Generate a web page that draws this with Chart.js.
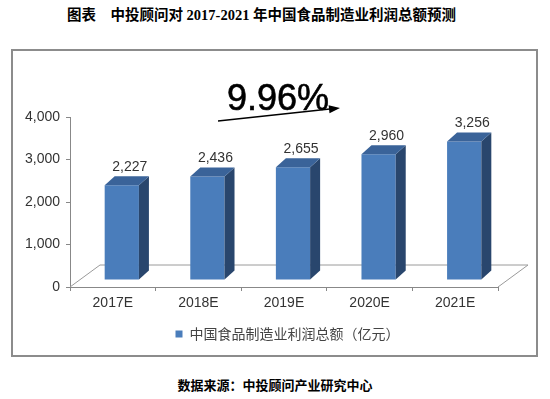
<!DOCTYPE html>
<html>
<head>
<meta charset="utf-8">
<script src="https://cdn.jsdelivr.net/npm/chart.js@4.4.0/dist/chart.umd.min.js"></script>
<style>
body { margin: 0; width: 550px; height: 399px; background: #fff; position: relative; overflow: hidden; }
#title { position: absolute; left: 67px; top: 3px; line-height: 18px; font: bold 14.5px "Liberation Serif", "Noto Sans CJK SC"; color: #000; white-space: nowrap; }
#frame { position: absolute; left: 11px; top: 49px; width: 527px; height: 308px; box-sizing: border-box; border: 2px solid #8c8c8c; }
#wrap { position: absolute; left: 13px; top: 51px; width: 523px; height: 304px; }
#source { position: absolute; left: 0; top: 375px; width: 550px; text-align: center; line-height: 18px; font: bold 13px "Noto Sans CJK SC"; color: #000; }
</style>
</head>
<body>
<div id="title">图表　中投顾问对 2017-2021 年中国食品制造业利润总额预测</div>
<div id="frame"></div>
<div id="wrap"><canvas id="chart" width="523" height="304"></canvas></div>
<div id="source">数据来源：中投顾问产业研究中心</div>
<script>
// data
var years = ['2017E', '2018E', '2019E', '2020E', '2021E'];
var profit = [2227, 2436, 2655, 2960, 3256];
var yTicks = [0, 1000, 2000, 3000, 4000];
var seriesName = '中国食品制造业利润总额（亿元）';
var growthRate = '9.96%';

// fake 3d look
var barShift = { dx: 9, dy: -7 };
var barDepth = { dx: 10, dy: -9 };
var floorDepth = { dx: 30, dy: -22 };

var threeD = {
    id: 'threeD',
    afterLayout: function (chart) {
        // legend sits centred under the plot, not under the whole canvas
        chart.legend.left += 32;
        chart.legend.right += 32;
    },
    beforeDatasetsDraw: function (chart) {
        var ctx = chart.ctx, a = chart.chartArea;
        ctx.save();
        ctx.strokeStyle = '#9a9a9a';
        ctx.lineWidth = 1;
        ctx.beginPath();
        ctx.moveTo(a.left, a.bottom);
        ctx.lineTo(a.left + floorDepth.dx, a.bottom + floorDepth.dy);
        ctx.lineTo(a.right + floorDepth.dx, a.bottom + floorDepth.dy);
        ctx.lineTo(a.right, a.bottom);
        ctx.stroke();
        ctx.restore();
    },
    beforeDatasetDraw: function (chart) {
        chart.ctx.save();
        chart.ctx.translate(barShift.dx, barShift.dy);
    },
    afterDatasetDraw: function (chart, args) {
        var ctx = chart.ctx;
        ctx.restore();
        var meta = args.meta;
        ctx.save();
        meta.data.forEach(function (bar, i) {
            var p = bar.getProps(['x', 'y', 'base', 'width'], true);
            var l = p.x - p.width / 2 + barShift.dx;
            var r = p.x + p.width / 2 + barShift.dx;
            var t = p.y + barShift.dy;
            var b = p.base + barShift.dy;
            // side
            ctx.fillStyle = '#29466d';
            ctx.beginPath();
            ctx.moveTo(r, t);
            ctx.lineTo(r + barDepth.dx, t + barDepth.dy);
            ctx.lineTo(r + barDepth.dx, b + barDepth.dy);
            ctx.lineTo(r, b);
            ctx.closePath();
            ctx.fill();
            // top
            ctx.fillStyle = '#3a6399';
            ctx.beginPath();
            ctx.moveTo(l, t);
            ctx.lineTo(l + barDepth.dx, t + barDepth.dy);
            ctx.lineTo(r + barDepth.dx, t + barDepth.dy);
            ctx.lineTo(r, t);
            ctx.closePath();
            ctx.fill();
            // value label
            ctx.fillStyle = '#333';
            ctx.font = '14px "Liberation Sans"';
            ctx.textAlign = 'center';
            ctx.textBaseline = 'middle';
            ctx.fillText(profit[i].toLocaleString('en-US'), p.x + 17, p.y - 25);
        });
        ctx.restore();
    },
    afterDraw: function (chart) {
        var ctx = chart.ctx, a = chart.chartArea;
        ctx.save();
        // growth rate + arrow
        ctx.fillStyle = '#000';
        ctx.strokeStyle = '#000';
        ctx.lineWidth = 0.6;
        ctx.font = '36px "Liberation Sans"';
        ctx.textAlign = 'left';
        ctx.textBaseline = 'alphabetic';
        ctx.fillText(growthRate, a.left + 157, a.top - 7);
        ctx.strokeText(growthRate, a.left + 157, a.top - 7);
        var x1 = a.left + 148, y1 = a.top + 4, x2 = a.left + 270, y2 = a.top - 9;
        var ang = Math.atan2(y2 - y1, x2 - x1);
        ctx.lineWidth = 1.5;
        ctx.beginPath();
        ctx.moveTo(x1, y1);
        ctx.lineTo(x2 - 8 * Math.cos(ang), y2 - 8 * Math.sin(ang));
        ctx.stroke();
        ctx.beginPath();
        ctx.moveTo(x2, y2);
        ctx.lineTo(x2 - 11 * Math.cos(ang) + 4 * Math.sin(ang), y2 - 11 * Math.sin(ang) - 4 * Math.cos(ang));
        ctx.lineTo(x2 - 11 * Math.cos(ang) - 4 * Math.sin(ang), y2 - 11 * Math.sin(ang) + 4 * Math.cos(ang));
        ctx.closePath();
        ctx.fill();
        ctx.restore();
    }
};

var ctx = document.getElementById('chart').getContext('2d');
var chart = new Chart(ctx, {
    type: 'bar',
    data: {
        labels: years,
        datasets: [{
            label: seriesName,
            data: profit,
            backgroundColor: '#4a7dbb',
            borderWidth: 0,
            barPercentage: 0.4,
            categoryPercentage: 1,
            clip: false
        }]
    },
    options: {
        responsive: false,
        animation: false,
        layout: { padding: { top: 66, right: 38, left: 0, bottom: 4 } },
        scales: {
            y: {
                min: yTicks[0],
                max: yTicks[yTicks.length - 1],
                afterBuildTicks: function (s) { s.ticks = yTicks.map(function (v) { return { value: v }; }); },
                afterFit: function (s) { s.width = 57; },
                ticks: { color: '#333', padding: 6, font: { family: 'Liberation Sans', size: 14 } },
                grid: { drawOnChartArea: false, tickLength: 4, color: '#888' },
                border: { color: '#888' }
            },
            x: {
                afterFit: function (s) { s.height = 30; },
                ticks: { color: '#333', padding: 4, font: { family: 'Liberation Sans', size: 14 } },
                grid: { drawOnChartArea: false, tickLength: 4, offset: true, color: '#888' },
                border: { color: '#888' }
            }
        },
        plugins: {
            legend: {
                display: true,
                position: 'bottom',
                labels: { boxWidth: 7, boxHeight: 7, padding: 10, color: '#444', font: { family: 'Noto Sans CJK SC', size: 14 } }
            },
            tooltip: { enabled: false }
        }
    },
    plugins: [threeD]
});
</script>
</body>
</html>
